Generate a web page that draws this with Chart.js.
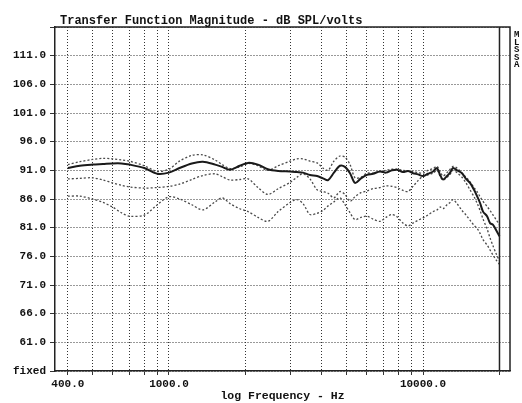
<!DOCTYPE html>
<html>
<head>
<meta charset="utf-8">
<title>Transfer Function Magnitude</title>
<script src="https://cdn.jsdelivr.net/npm/chart.js@4.4.0/dist/chart.umd.min.js"></script>
<style>
body { margin: 0; background: #fff; }
#wrap { width: 522px; height: 403px; position: relative; }
</style>
</head>
<body>
<div id="wrap"><canvas id="chart"></canvas></div>
<script>
// measurement frequencies (Hz), shared by all four traces
var freqs = [400, 446, 500, 550, 600, 650, 700, 800, 900, 1000,
    1100, 1230, 1360, 1520, 1620, 1740, 1900, 2050, 2240, 2450,
    2690, 3000, 3190, 3370, 3590, 3830, 4040, 4230, 4460, 4710,
    4930, 5160, 5400, 5700, 6020, 6360, 6770, 7150, 7550, 7900,
    8340, 8730, 9130, 9560, 10000, 10460, 10950, 11360, 11670, 11990,
    12430, 12780, 13130, 13610, 14240, 14770, 15310, 15880, 16320, 16770,
    17230, 17870, 18360, 18870, 19390, 20000];

// dB SPL/volts
var solidResp = [91.4, 91.8, 92.0, 92.1, 92.2, 92.2, 92.0, 91.4, 90.4, 90.6,
    91.4, 92.2, 92.5, 92.0, 91.6, 91.1, 91.8, 92.3, 92.0, 91.2,
    90.9, 90.8, 90.7, 90.6, 90.2, 90.0, 89.6, 89.3, 90.6, 91.8,
    91.6, 90.5, 88.8, 89.6, 90.2, 90.4, 90.8, 90.6, 91.0, 91.1,
    90.7, 90.9, 90.5, 90.3, 90.0, 90.4, 90.8, 91.4, 90.2, 89.4,
    90.0, 90.6, 91.4, 91.0, 90.5, 89.5, 88.8, 87.6, 86.5, 85.3,
    83.8, 83.0, 81.8, 81.5, 80.6, 79.5];

var upperResp = [92.0, 92.5, 92.9, 93.1, 93.0, 92.8, 92.6, 91.8, 90.8, 91.2,
    92.6, 93.6, 93.7, 92.8, 92.0, 91.3, 91.6, 92.2, 91.8, 91.0,
    91.8, 92.6, 93.0, 93.0, 92.6, 92.3, 91.4, 91.0, 92.6, 93.5,
    93.3, 92.0, 89.7, 89.8, 90.5, 90.5, 90.8, 91.0, 91.2, 91.2,
    91.0, 90.9, 90.8, 90.6, 90.5, 91.0, 91.3, 91.7, 90.8, 90.0,
    90.6, 91.2, 91.7, 91.4, 90.5, 89.8, 89.0, 88.0, 87.3, 86.4,
    85.6, 84.7, 84.0, 83.2, 82.4, 81.5];

var middleResp = [89.5, 89.6, 89.7, 89.3, 88.8, 88.4, 88.1, 87.9, 88.0, 88.2,
    88.6, 89.4, 90.1, 90.4, 89.9, 89.3, 89.4, 89.5, 88.0, 86.8,
    87.8, 88.9, 89.8, 90.4, 89.5, 87.6, 87.3, 87.0, 86.2, 87.3,
    86.8, 85.6, 86.4, 87.1, 87.4, 87.8, 88.0, 88.3, 88.2, 88.0,
    87.5, 87.3, 88.2, 89.2, 90.0, 90.2, 90.5, 91.0, 90.0, 89.3,
    89.8, 90.3, 91.0, 90.6, 89.8, 88.8, 87.6, 86.4, 85.3, 84.0,
    82.5, 80.8, 79.2, 77.8, 76.5, 75.2];

var lowerResp = [86.5, 86.5, 86.0, 85.4, 84.6, 83.6, 83.0, 83.2, 85.0, 86.4,
    86.0, 85.0, 84.1, 85.5, 86.2, 85.2, 84.3, 83.8, 82.8, 82.1,
    83.8, 85.4, 85.9, 85.2, 83.3, 83.5, 84.0, 84.8, 85.5, 86.2,
    85.0, 83.6, 82.4, 82.8, 83.0, 82.5, 82.1, 82.8, 83.3, 82.9,
    81.8, 81.3, 81.8, 82.3, 82.7, 83.2, 83.8, 84.1, 84.6, 84.3,
    85.0, 85.4, 85.9, 85.2, 84.0, 83.2, 82.3, 81.4, 80.9, 80.0,
    78.9, 78.0, 77.1, 76.2, 75.4, 74.6];

// axis ticks
var gridFreqs = [400, 500, 600, 700, 800, 900, 1000, 2000, 3000, 4000,
    5000, 6000, 7000, 8000, 9000, 10000, 20000];
var xLabelFreqs = [400, 1000, 10000];
var xLabels = ['400.0', '1000.0', '10000.0'];
var yTickValues = [56, 61, 66, 71, 76, 81, 86, 91, 96, 101, 106, 111, 116];
var yTickLabels = ['fixed', '61.0', '66.0', '71.0', '76.0', '81.0', '86.0',
    '91.0', '96.0', '101.0', '106.0', '111.0', ''];

var titleText = 'Transfer Function Magnitude - dB SPL/volts';
var sideLabels = ['M', 'L', 'S', 'S', 'A'];

var monoFont = "'Liberation Mono', 'DejaVu Sans Mono', monospace";
var inkColor = '#111';

function toPoints(values) {
    return freqs.map(function (f, i) {
        return { x: f, y: values[i] };
    });
}

function dottedSet(values) {
    return {
        data: toPoints(values),
        borderColor: '#4a4a4a',
        borderWidth: 1.3,
        borderDash: [2, 2],
        pointRadius: 0,
        tension: 0.3,
        fill: false
    };
}

// solid frame, 20 kHz line, title and the cut-off labels on the right
var framePlugin = {
    id: 'frame',
    afterDatasetsDraw: function (chart) {
        var ctx = chart.ctx;
        var area = chart.chartArea;
        var x20k = chart.scales.x.getPixelForValue(20000);
        ctx.save();
        ctx.strokeStyle = '#222';
        ctx.lineWidth = 1.5;
        ctx.setLineDash([]);
        ctx.beginPath();
        ctx.moveTo(area.left, area.top);
        ctx.lineTo(area.right, area.top);
        ctx.lineTo(area.right, area.bottom);
        ctx.moveTo(x20k, area.top);
        ctx.lineTo(x20k, area.bottom);
        ctx.stroke();
        ctx.restore();
    },
    afterDraw: function (chart) {
        var ctx = chart.ctx;
        var area = chart.chartArea;
        ctx.save();
        ctx.fillStyle = inkColor;
        ctx.font = 'bold 12px ' + monoFont;
        ctx.textBaseline = 'alphabetic';
        ctx.textAlign = 'left';
        ctx.fillText(titleText, area.left + 5, 24);
        ctx.font = 'bold 9px ' + monoFont;
        ctx.textBaseline = 'middle';
        for (var i = 0; i < sideLabels.length; i++) {
            ctx.fillText(sideLabels[i], area.right + 4, 35 + i * 7.5);
        }
        ctx.restore();
    }
};

var tickFont = { family: monoFont, size: 11, weight: 'bold' };

new Chart(document.getElementById('chart').getContext('2d'), {
    type: 'line',
    data: {
        datasets: [
            {
                data: toPoints(solidResp),
                borderColor: '#1a1a1a',
                borderWidth: 2,
                pointRadius: 0,
                tension: 0.3,
                fill: false
            },
            dottedSet(upperResp),
            dottedSet(middleResp),
            dottedSet(lowerResp)
        ]
    },
    options: {
        responsive: true,
        maintainAspectRatio: false,
        animation: false,
        layout: { padding: { top: 27, right: 12, bottom: 0, left: 0 } },
        plugins: {
            legend: { display: false },
            tooltip: { enabled: false }
        },
        scales: {
            x: {
                type: 'logarithmic',
                min: 356,
                max: 22000,
                afterBuildTicks: function (scale) {
                    scale.ticks = gridFreqs.map(function (v) { return { value: v }; });
                },
                afterFit: function (scale) { scale.height = 32; },
                ticks: {
                    autoSkip: false,
                    maxRotation: 0,
                    minRotation: 0,
                    padding: 3,
                    color: inkColor,
                    font: tickFont,
                    callback: function (value) {
                        var i = xLabelFreqs.indexOf(value);
                        return i >= 0 ? xLabels[i] : '';
                    }
                },
                grid: { color: '#333', lineWidth: 1, tickLength: 4, tickBorderDash: [] },
                border: { display: true, color: '#222', width: 1.5, dash: [1, 2] },
                title: {
                    display: true,
                    text: 'log Frequency - Hz',
                    color: inkColor,
                    font: { family: monoFont, size: 11.5, weight: 'bold' },
                    padding: { top: 0, bottom: 0 }
                }
            },
            y: {
                min: 56,
                max: 116,
                afterBuildTicks: function (scale) {
                    scale.ticks = yTickValues.map(function (v) { return { value: v }; });
                },
                afterFit: function (scale) { scale.width = 55; },
                ticks: {
                    padding: 4,
                    color: inkColor,
                    font: tickFont,
                    callback: function (value) {
                        return yTickLabels[yTickValues.indexOf(value)];
                    }
                },
                grid: { color: '#333', lineWidth: 1, tickLength: 5, tickBorderDash: [] },
                border: { display: true, color: '#222', width: 1.5, dash: [1, 2] }
            }
        }
    },
    plugins: [framePlugin]
});
</script>
</body>
</html>
